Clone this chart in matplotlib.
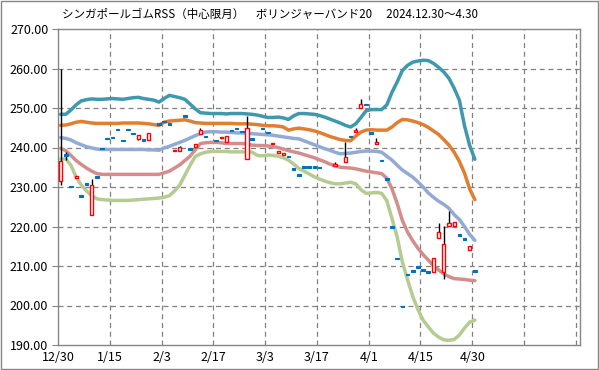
import numpy as np
import matplotlib.pyplot as plt
from matplotlib.patches import Rectangle

plt.rcParams['font.family'] = ['Noto Sans CJK JP', 'DejaVu Sans']

title = "シンガポールゴムRSS（中心限月）　ボリンジャーバンド20　 2024.12.30～4.30"
x_labels = ['12/30', '1/15', '2/3', '2/17', '3/3', '3/17', '4/1', '4/15', '4/30']

nan = np.nan
# daily candles (trading days 12/30 .. 4/30)
opens = [231.4, 238.3, 230.3, 232.3, 227.9, 230.9, 222.8, 232.7, 239.9, 242.5,
         242.7, 244.8, 242.0, 244.8, 243.7, 242.2, 242.1, 241.9, nan, 246.1,
         246.8, 246.1, 239.1, 239.1, 248.2, 239.8, 240.1, 243.4, 243.0, nan,
         242.0, 242.3, 241.3, 244.5, 245.0, 244.2, 237.1, 242.3, nan, 245.0,
         244.0, 240.8, 238.6, 238.1, 237.9, 234.7, 233.2, 235.2, 235.2, 235.2,
         235.1, nan, nan, 235.4, nan, 236.3, 243.0, 243.9, 250.1, 251.1,
         243.9, 241.0, 236.9, 232.2, 220.0, 212.1, 200.0, 208.0, 209.0, 210.0,
         209.2, 208.7, 208.5, 217.1, 208.5, 220.2, 220.2, 218.1, 217.0, 214.1,
         209.0]
highs = [260.0, 238.8, 230.3, 232.8, 227.9, 230.9, 232.0, 232.7, 239.9, 242.5,
         242.7, 244.8, 242.0, 244.8, 243.7, 243.2, 242.1, 243.7, nan, 246.1,
         246.8, 246.1, 239.4, 240.5, 248.2, 239.8, 241.0, 245.0, 243.0, nan,
         242.0, 242.7, 242.8, 244.5, 245.0, 244.2, 247.9, 242.3, nan, 245.0,
         244.0, 241.2, 239.0, 238.6, 237.9, 234.7, 233.2, 235.2, 235.2, 235.2,
         235.1, nan, nan, 236.3, nan, 241.3, 243.0, 244.9, 252.2, 251.1,
         243.9, 242.3, 236.9, 232.2, 220.0, 212.1, 200.0, 208.0, 209.0, 210.0,
         209.2, 208.7, 212.1, 221.0, 220.2, 223.9, 221.2, 218.1, 217.0, 215.1,
         209.0]
lows = [230.6, 236.8, 229.9, 232.3, 227.5, 230.5, 222.8, 232.3, 239.5, 242.1,
        242.3, 244.4, 241.6, 244.4, 243.3, 241.8, 241.7, 241.9, nan, 245.7,
        246.4, 245.7, 239.1, 239.1, 247.8, 239.4, 240.1, 243.4, 242.6, nan,
        241.6, 242.3, 241.3, 244.1, 244.6, 243.8, 237.1, 241.9, nan, 244.6,
        243.6, 240.8, 238.6, 238.1, 237.5, 234.3, 232.8, 234.8, 234.8, 234.8,
        234.7, nan, nan, 235.4, nan, 236.3, 242.6, 243.9, 250.1, 250.7,
        243.5, 241.0, 236.5, 231.8, 219.6, 211.7, 199.6, 207.6, 208.6, 209.6,
        208.8, 208.3, 208.5, 217.1, 206.8, 220.2, 220.2, 217.7, 216.6, 214.1,
        208.6]
closes = [236.6, 237.9, 229.9, 232.7, 227.5, 230.5, 230.5, 232.3, 239.5, 242.1,
          242.3, 244.4, 241.6, 244.4, 243.3, 243.2, 241.7, 243.7, nan, 245.7,
          246.4, 245.7, 239.4, 240.0, 247.8, 239.4, 241.0, 244.5, 242.6, nan,
          241.6, 242.7, 242.8, 244.1, 244.6, 243.8, 245.0, 241.9, nan, 244.6,
          243.6, 241.2, 239.0, 238.6, 237.5, 234.3, 232.8, 234.8, 234.8, 234.8,
          234.7, nan, nan, 235.9, nan, 237.6, 242.6, 244.5, 251.1, 250.7,
          243.5, 241.3, 236.5, 231.8, 219.6, 211.7, 199.6, 207.6, 208.6, 209.6,
          208.8, 208.3, 212.1, 218.7, 215.6, 221.0, 221.2, 217.7, 216.6, 215.1,
          208.6]

# bollinger bands
upper2 = [248.4, 248.4, 249.5, 250.8, 251.8, 252.1, 252.3, 252.2, 252.2, 252.3,
          252.4, 252.3, 252.2, 252.4, 252.6, 252.7, 252.4, 252.2, 252.0, 251.5,
          252.4, 253.2, 252.9, 252.6, 252.2, 251.0, 249.8, 248.8, 248.7, 248.6,
          248.6, 248.6, 248.5, 248.6, 248.6, 248.6, 248.5, 248.4, 248.2, 247.9,
          247.6, 247.6, 247.7, 247.5, 247.1, 248.0, 248.6, 248.6, 248.5, 248.4,
          248.1, 247.7, 247.2, 246.7, 246.2, 245.6, 245.2, 246.0, 247.6, 249.3,
          249.6, 249.6, 249.6, 250.8, 254.0, 256.6, 259.5, 260.8, 261.6, 261.9,
          262.1, 262.0, 261.3, 260.3, 259.1, 257.5, 255.0, 252.0, 245.5, 240.5,
          237.0]
upper1 = [245.6, 245.7, 246.0, 246.4, 246.6, 246.4, 246.2, 246.1, 246.1, 246.1,
          246.1, 246.1, 246.2, 246.2, 246.2, 246.2, 246.1, 246.0, 245.8, 245.6,
          246.4, 246.7, 246.8, 246.9, 247.0, 246.7, 246.3, 246.2, 246.1, 246.1,
          246.1, 246.1, 246.1, 246.1, 246.0, 246.0, 246.0, 245.9, 245.8, 245.6,
          245.5, 245.5, 245.4, 245.2, 244.4, 244.7, 244.9, 244.7, 244.5, 244.2,
          243.8, 243.3, 242.8, 242.4, 242.0, 241.8, 241.7, 242.9, 243.9, 244.4,
          244.5, 244.4, 244.4, 244.4, 245.2, 246.3, 247.1, 247.0, 246.7, 246.3,
          245.8, 245.1, 244.2, 243.3, 242.0, 240.6, 238.8, 236.5, 233.5, 229.5,
          226.8]
mid = [242.5, 242.3, 241.9, 241.2, 240.7, 240.2, 239.9, 239.6, 239.5, 239.5,
       239.5, 239.5, 239.5, 239.5, 239.5, 239.5, 239.5, 239.4, 239.4, 239.3,
       239.9, 240.3, 240.8, 241.3, 241.8, 242.4, 243.0, 243.5, 243.9, 244.0,
       244.0, 243.9, 243.9, 243.8, 243.7, 243.7, 243.6, 243.5, 243.4, 243.3,
       243.2, 243.1, 242.9, 242.7, 242.5, 242.3, 242.2, 241.7, 241.2, 240.7,
       240.2, 239.7, 239.3, 238.8, 238.4, 238.5, 238.6, 238.8, 239.0, 239.1,
       239.1, 239.0, 238.8, 237.8, 236.8, 235.5, 234.3, 233.4, 232.5, 231.3,
       230.0, 228.5, 227.4, 226.4, 225.6, 224.6, 223.0, 221.8, 220.0, 218.0,
       216.5]
lower1 = [239.8, 239.2, 238.0, 236.7, 235.7, 234.8, 234.0, 233.4, 233.2, 233.2,
          233.2, 233.2, 233.2, 233.2, 233.2, 233.2, 233.2, 233.2, 233.2, 233.2,
          233.6, 234.0, 234.8, 235.6, 236.7, 237.8, 239.4, 241.0, 241.2, 241.3,
          241.3, 241.2, 241.0, 241.0, 241.0, 241.0, 240.9, 240.6, 240.5, 240.5,
          240.4, 240.2, 240.0, 239.6, 239.2, 238.9, 238.6, 238.2, 237.8, 237.4,
          236.9, 236.4, 235.8, 235.4, 235.0, 234.9, 234.8, 234.6, 234.3, 234.0,
          233.8, 233.6, 233.4, 232.2, 229.5, 225.8, 221.5, 218.6, 216.4, 214.5,
          212.9, 211.5, 210.1, 209.0, 208.0, 207.3, 206.8, 206.7, 206.6, 206.4,
          206.3]
lower2 = [237.1, 237.1, 235.5, 232.5, 230.5, 229.0, 227.8, 227.0, 226.8, 226.7,
          226.6, 226.6, 226.6, 226.6, 226.7, 226.8, 226.9, 227.0, 227.1, 227.2,
          227.4, 227.8, 229.0, 230.5, 233.0, 235.5, 237.7, 238.4, 238.8, 239.0,
          239.0, 239.0, 239.0, 238.9, 238.9, 238.9, 238.9, 238.8, 238.0, 237.9,
          238.1, 238.0, 237.8, 237.4, 236.8, 235.8, 234.7, 234.0, 233.3, 232.6,
          232.0, 231.5, 231.1, 230.8, 230.8, 231.0, 231.2, 230.8, 229.3, 228.4,
          228.5, 228.6, 228.4, 226.5, 222.0, 217.3, 211.0, 206.5, 202.3, 199.0,
          196.3, 194.6, 193.0, 192.0, 191.3, 191.2, 191.4, 192.5, 194.3, 195.8,
          196.3]

fig = plt.figure(figsize=(5.99, 3.70), dpi=100)
ax = fig.add_axes([58 / 599, 25 / 370, 522 / 599, 316 / 370])

x = np.arange(len(closes))
o = np.array(opens)
h = np.array(highs)
l = np.array(lows)
c = np.array(closes)

# bands
ax.plot(x, upper2, color='#3E98AE', lw=2.5, zorder=3, solid_capstyle='round')
ax.plot(x, upper1, color='#E07F31', lw=2.5, zorder=3, solid_capstyle='round')
ax.plot(x, mid, color='#93AAD3', lw=2.5, zorder=3, solid_capstyle='round')
ax.plot(x, lower1, color='#D38E8C', lw=2.5, zorder=3, solid_capstyle='round')
ax.plot(x, lower2, color='#B6CB92', lw=2.5, zorder=3, solid_capstyle='round')

# candles
up = c >= o
ax.vlines(x, l, h, color='black', lw=1, zorder=4)
body_low = np.minimum(o, c)
body_h = np.maximum(np.abs(c - o), 0.3)
ax.bar(x[up], body_h[up], bottom=body_low[up], width=0.6,
       facecolor='white', edgecolor='#FF0000', lw=1, zorder=5)
ax.bar(x[~up], body_h[~up], bottom=body_low[~up], width=0.7,
       facecolor='#0070C0', edgecolor='#0070C0', lw=0.8, zorder=5)

ax.set_xlim(-0.5, 100.3)
ax.set_ylim(190, 270)
ax.set_yticks(np.arange(190, 271, 10))
ax.set_yticklabels(['%.2f' % v for v in np.arange(190, 271, 10)], fontsize=9)
grid_x = np.arange(len(x_labels) + 2) * 10 - 0.5
ax.set_xticks(grid_x)
ax.set_xticklabels(x_labels + ['', ''], fontsize=9)
ax.tick_params(axis='x', length=0, pad=4)
ax.tick_params(axis='y', length=4, color='#868686', pad=3)

for gx in grid_x[1:]:
    ax.axvline(gx, color='#808080', lw=0.9, ls=(0, (4, 3)), zorder=1)
for gy in np.arange(200, 270, 10):
    ax.axhline(gy, color='#808080', lw=0.9, ls=(0, (4, 3)), zorder=1)

for s in ax.spines.values():
    s.set_color('#868686')
    s.set_linewidth(1)

fig.text(62 / 599, 1 - 14 / 370, title, fontsize=8.3, va='center', ha='left')
fig.patches.append(Rectangle((0.001, 0.002), 0.997, 0.995, transform=fig.transFigure,
                             fill=False, edgecolor='#868686', lw=1))

fig.savefig('out.png', dpi=100)
